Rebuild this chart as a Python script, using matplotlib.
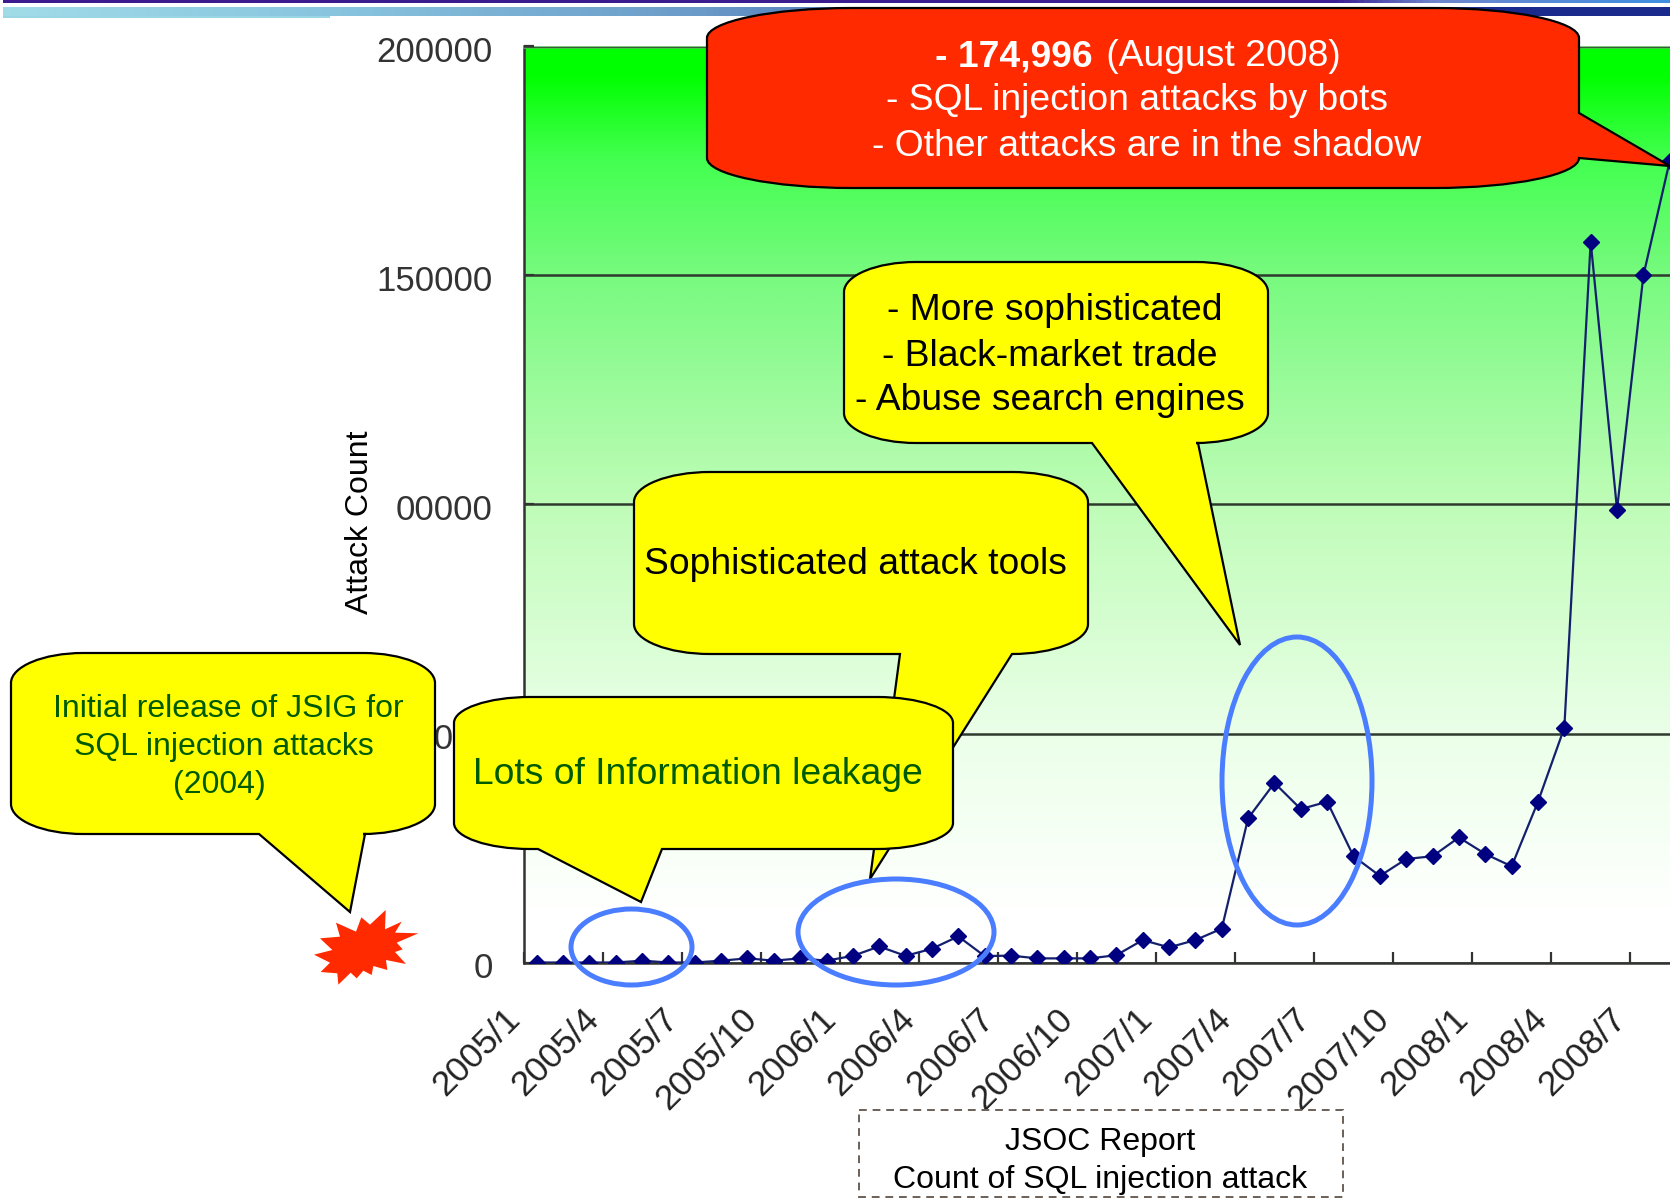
import numpy as np
import matplotlib
matplotlib.use("Agg")
import matplotlib.pyplot as plt
from matplotlib.path import Path
from matplotlib.patches import PathPatch, Ellipse, Polygon, Rectangle
from matplotlib.colors import LinearSegmentedColormap
from matplotlib.transforms import ScaledTranslation

plt.rcParams['font.family'] = ['Liberation Sans', 'DejaVu Sans']

# ---------- data ----------
attack_counts = [0, 0, 0, 0, 400, 0, 0, 400, 900, 400, 900, 400,
                 1450, 3500, 1450, 3000, 5700, 1400, 1500, 900, 900, 900, 1600, 4900,
                 3300, 4900, 7400, 31500, 39200, 33500, 35100, 23200, 18900, 22600, 23200, 27300,
                 23700, 21000, 35100, 51250, 157400, 98900, 150000, 174996]
tick_labels = ['2005/1', '2005/4', '2005/7', '2005/10', '2006/1', '2006/4', '2006/7', '2006/10',
               '2007/1', '2007/4', '2007/7', '2007/10', '2008/1', '2008/4', '2008/7']
y_ticks = [0, 50000, 100000, 150000, 200000]
y_labels = ['0', '50000', '00000', '150000', '200000']

W, H = 1670, 1199
DPI = 100
fig = plt.figure(figsize=(W / DPI, H / DPI), dpi=DPI, facecolor='white')

# ---------- chart ----------
L, R, T, B = 523.5, 1670, 46.5, 962.5
ax = fig.add_axes([L / W, 1 - B / H, (R - L) / W, (B - T) / H])
months = np.arange(len(attack_counts))
XMAX = (R - L) / 26.35 - 0.5

grad = LinearSegmentedColormap.from_list('g', [
    (0.0, (0, 1, 0)), (0.03, (0, 1, 0)), (0.12, (0.26, 1, 0.31)), (0.25, (0.47, 0.98, 0.50)),
    (0.5, (0.75, 0.99, 0.72)), (0.75, (0.92, 1, 0.91)), (0.95, (1, 1, 1)), (1.0, (1, 1, 1))])
ax.imshow(np.linspace(0, 1, 512)[:, None], aspect='auto', cmap=grad, vmin=0, vmax=1,
          extent=(0, 1, 0, 1), transform=ax.transAxes, zorder=0, interpolation='bilinear')
ax.set_xlim(-0.5, XMAX)
ax.set_ylim(0, 200000)

ax.yaxis.grid(True, color='#2f3a2f', lw=1.8, zorder=1)
ax.set_axisbelow(False)
ax.plot(months, attack_counts, color='#14206e', lw=1.6, marker='D', ms=8,
        mfc='#000080', mec='#000080', zorder=3)

for s in ['left', 'bottom', 'top']:
    ax.spines[s].set_color('#333333')
    ax.spines[s].set_linewidth(1.8)
ax.spines['top'].set_color('#58b858')
ax.spines['right'].set_visible(False)

ax.set_yticks(y_ticks, y_labels, fontsize=25, color='#333333')
ax.tick_params(axis='y', direction='in', length=7, width=1.6, pad=22, color='#333333')
yoff = ScaledTranslation(0, -3 / DPI, fig.dpi_scale_trans)
for t in ax.get_yticklabels():
    t.set_transform(t.get_transform() + yoff)
ax.set_xticks(np.arange(len(tick_labels)) * 3 - 0.5, tick_labels)
ax.tick_params(axis='x', direction='in', length=8, width=1.6, pad=37, color='#333333')
off = ScaledTranslation(-9 / DPI, 0, fig.dpi_scale_trans)
for t in ax.get_xticklabels():
    t.set(rotation=45, ha='right', va='center', rotation_mode='anchor', fontsize=25.5, color='#222222')
    t.set_transform(t.get_transform() + off)

# ---------- overlay in pixel coordinates ----------
ov = fig.add_axes([0, 0, 1, 1], facecolor='none')
ov.set_xlim(0, W)
ov.set_ylim(H, 0)
ov.axis('off')

# header bands
band1 = LinearSegmentedColormap.from_list('b1', [(0, '#3b1b8e'), (0.8, '#3b1f92'), (0.86, '#6f86cc'), (1, '#3f8fe0')])
band2 = LinearSegmentedColormap.from_list('b2', [(0, '#a0dce8'), (0.2, '#88c4de'), (0.42, '#6a9ac8'),
                                                 (0.6, '#3a5aa8'), (0.9, '#1a2a8c'), (1, '#1a2a8c')])
ov.imshow(np.linspace(0, 1, 256)[None, :], cmap=band1, aspect='auto', extent=(3, W, 3.5, 0), zorder=1)
ov.imshow(np.linspace(0, 1, 256)[None, :], cmap=band2, aspect='auto', extent=(3, W, 16.5, 8), zorder=1)
ov.add_patch(Rectangle((3, 16), 327, 1.5, fc='#98d6e6', ec='none', zorder=1))
ov.set_xlim(0, W)
ov.set_ylim(H, 0)


def callout(x0, y0, x1, y1, rx, ry, wedge, side, fc, z):
    """Rounded box with a pointer: side 'b' (bottom edge) or 'r' (right edge)."""
    a, b, tip = wedge
    k = 0.45
    v = [(x0 + rx, y0), (x1 - rx, y0),
         (x1 - rx * k, y0), (x1, y0 + ry * k), (x1, y0 + ry)]
    c = [Path.MOVETO, Path.LINETO, Path.CURVE4, Path.CURVE4, Path.CURVE4]
    if side == 'r':
        v += [(x1, a), tip, (x1, b)]
        c += [Path.LINETO] * 3
    v += [(x1, y1 - ry)]
    c += [Path.LINETO]
    v += [(x1, y1 - ry * k), (x1 - rx * k, y1), (x1 - rx, y1)]
    c += [Path.CURVE4] * 3
    if side == 'b':
        v += [(b, y1), tip, (a, y1)]
        c += [Path.LINETO] * 3
    v += [(x0 + rx, y1)]
    c += [Path.LINETO]
    v += [(x0 + rx * k, y1), (x0, y1 - ry * k), (x0, y1 - ry)]
    c += [Path.CURVE4] * 3
    v += [(x0, y0 + ry)]
    c += [Path.LINETO]
    v += [(x0, y0 + ry * k), (x0 + rx * k, y0), (x0 + rx, y0), (x0 + rx, y0)]
    c += [Path.CURVE4] * 3 + [Path.CLOSEPOLY]
    ov.add_patch(PathPatch(Path(v, c), fc=fc, ec='black', lw=1.6, zorder=z, joinstyle='miter'))


YEL = '#ffff00'
GRN = '#005a00'
callout(634, 472, 1088, 654, 76, 30, (900, 1012, (870, 879)), 'b', YEL, 5)
callout(454, 697, 953, 849, 76, 26, (538, 662, (641, 902)), 'b', YEL, 6)
callout(11, 653, 435, 834, 72, 30, (259, 365, (350, 912)), 'b', YEL, 6)
callout(844, 262, 1268, 443, 72, 30, (1092, 1198, (1240, 645)), 'b', YEL, 6)
callout(707, 8, 1579, 188, 145, 30, (113, 158, (1670, 166)), 'r', '#ff2a00', 8)

# ellipses
for (x0, x1, y0, y1) in [(571, 692, 909, 985), (798, 994, 879, 985), (1222, 1372, 637, 925)]:
    ov.add_patch(Ellipse(((x0 + x1) / 2, (y0 + y1) / 2), x1 - x0, y1 - y0, fc='none',
                         ec='#4a7dff', lw=3.6, zorder=7))

# starburst
burst = [(257, 60), (255, 118), (305, 95), (285, 128), (355, 130), (290, 158), (308, 178), (285, 186),
         (318, 222), (258, 210), (262, 240), (220, 228), (215, 255), (190, 242), (170, 265), (152, 248),
         (115, 284), (112, 250), (62, 246), (90, 218), (42, 194), (97, 180), (60, 145), (120, 140),
         (108, 98), (168, 125), (184, 82), (210, 104)]
ov.add_patch(Polygon([(300 + x / 3, 890 + y / 3) for x, y in burst], fc='#ff2a00', ec='none', zorder=6))

# text
def T_(x, y, s, size, color='black', **kw):
    return ov.text(x, y, s, fontsize=size, color=color, ha='center', va='center', zorder=10, **kw)

T_(360, 522, 'Attack Count', 23, rotation=90)
# red callout, first line in two weights
fig.canvas.draw()
rend = fig.canvas.get_renderer()
b_txt = ov.text(0, 57, '- 174,996', fontsize=26.8, color='white', fontweight='bold', ha='left', va='center', zorder=10)
n_txt = ov.text(0, 57, ' (August 2008)', fontsize=26.8, color='white', ha='left', va='center', zorder=10)
bw = b_txt.get_window_extent(rend).width
nw = n_txt.get_window_extent(rend).width
sp = 3
left = 1138 - (bw + nw + sp) / 2
b_txt.set_x(left)
n_txt.set_x(left + bw + sp)
T_(1137, 101, '- SQL injection attacks by bots', 26.8, 'white')
T_(1147, 146, '- Other attacks are in the shadow', 26.8, 'white')

T_(1055, 311, '- More sophisticated', 26.8)
T_(1050, 356, '- Black-market trade', 26.8)
T_(1050, 400, '- Abuse search engines', 26.8)
T_(855, 565, 'Sophisticated attack tools', 26.8)
T_(698, 775, 'Lots of Information leakage', 26.8, GRN)
T_(228, 709, 'Initial release of JSIG for', 23, GRN)
T_(224, 747, 'SQL injection attacks', 23, GRN)
T_(219, 785, '(2004)', 23, GRN)

ov.add_patch(Rectangle((859, 1110), 484, 87, fc='white', ec='#6b6058', lw=1.4, ls=(0, (4, 3)), zorder=4))
T_(1100, 1142, 'JSOC Report', 23)
T_(1100, 1180, 'Count of SQL injection attack', 23)

fig.savefig('out.png', dpi=DPI)
